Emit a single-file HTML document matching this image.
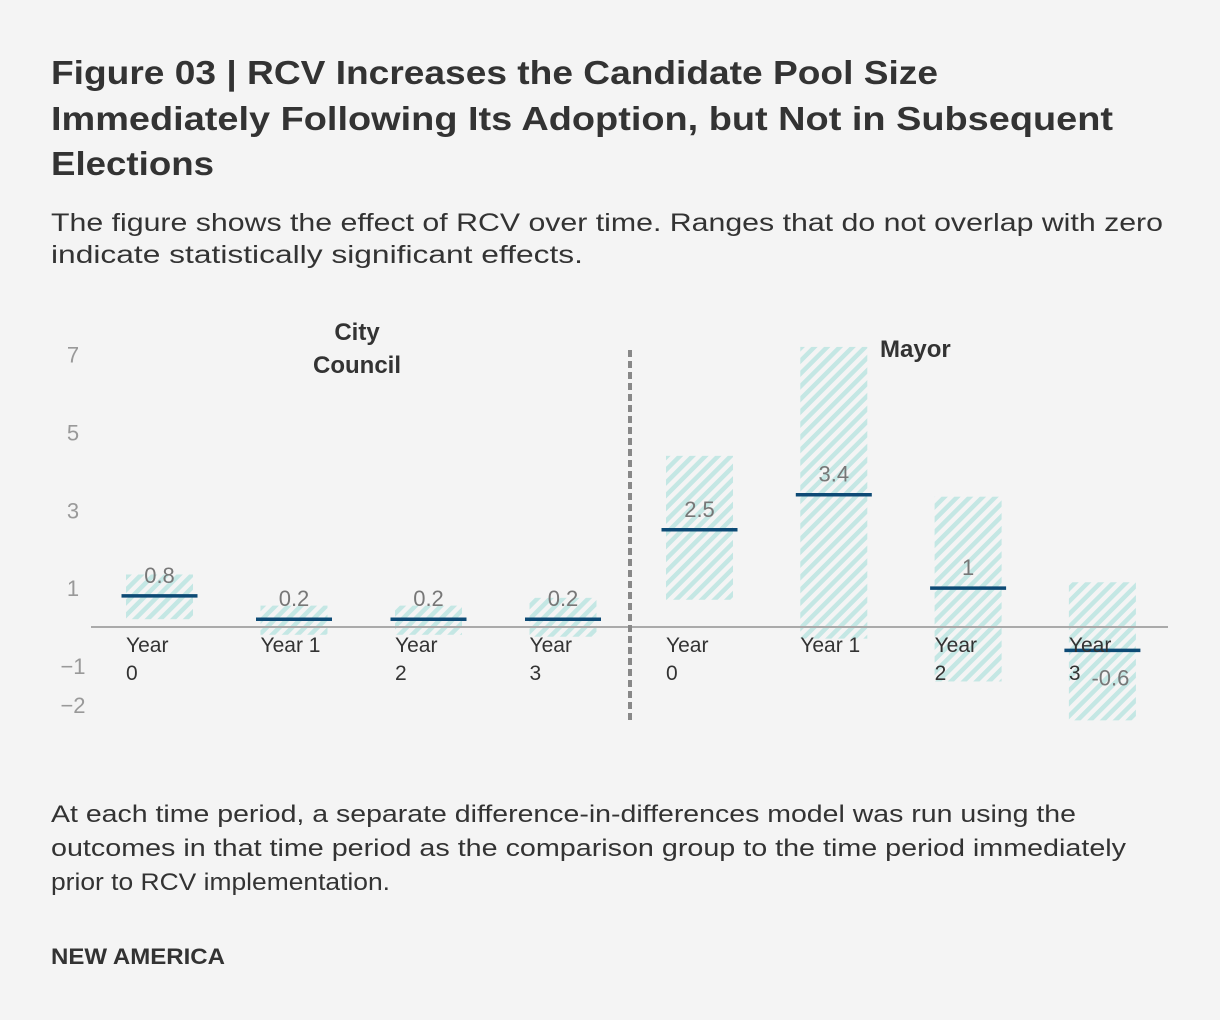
<!DOCTYPE html>
<html><head><meta charset="utf-8"><style>
html,body{margin:0;padding:0;background:#f4f4f4;}
svg{display:block;font-family:"Liberation Sans",sans-serif;}
</style></head><body>
<svg id="c" width="1220" height="1020" viewBox="0 0 1220 1020">
<defs>
<pattern id="hatch" patternUnits="userSpaceOnUse" width="9" height="9" patternTransform="rotate(45)">
<rect width="9" height="9" fill="#f4f4f4"/>
<rect width="4.5" height="9" fill="#c4e7e4"/>
</pattern>
</defs>
<g fill="#333" font-weight="bold" font-size="33">
<text x="51" y="84" textLength="887" lengthAdjust="spacingAndGlyphs">Figure 03 | RCV Increases the Candidate Pool Size</text>
<text x="51" y="130" textLength="1062" lengthAdjust="spacingAndGlyphs">Immediately Following Its Adoption, but Not in Subsequent</text>
<text x="51" y="175" textLength="163" lengthAdjust="spacingAndGlyphs">Elections</text>
</g>
<g fill="#333" font-size="25">
<text x="51" y="231" textLength="1112" lengthAdjust="spacingAndGlyphs">The figure shows the effect of RCV over time. Ranges that do not overlap with zero</text>
<text x="51" y="263" textLength="532" lengthAdjust="spacingAndGlyphs">indicate statistically significant effects.</text>
</g>
<g id="plot"></g>
<g fill="#333" font-size="24">
<text x="51" y="822" textLength="1025" lengthAdjust="spacingAndGlyphs">At each time period, a separate difference-in-differences model was run using the</text>
<text x="51" y="856" textLength="1075" lengthAdjust="spacingAndGlyphs">outcomes in that time period as the comparison group to the time period immediately</text>
<text x="51" y="890" textLength="339" lengthAdjust="spacingAndGlyphs">prior to RCV implementation.</text>
</g>
<text x="51" y="964" fill="#333" font-size="22" font-weight="bold" textLength="174" lengthAdjust="spacingAndGlyphs">NEW AMERICA</text>
</svg>
<script>
const categories=["Year 0","Year 1","Year 2","Year 3","Year 0","Year 1","Year 2","Year 3"];
const groups=["City Council","City Council","City Council","City Council","Mayor","Mayor","Mayor","Mayor"];
const estimates=[0.8,0.2,0.2,0.2,2.5,3.4,1,-0.6];
const lower=[0.2,-0.2,-0.2,-0.25,0.7,-0.3,-1.4,-2.4];
const upper=[1.35,0.55,0.55,0.75,4.4,7.2,3.35,1.15];
const labels=["0.8","0.2","0.2","0.2","2.5","3.4","1","-0.6"];
const yTicks=[7,5,3,1,-1,-2];
const yTickLabels=["7","5","3","1","\u22121","\u22122"];

const NS="http://www.w3.org/2000/svg";
const plot=document.getElementById('plot');
function y(v){return 627-38.9*v;}
function x(i){return i<4?159.5+134.5*i:699.5+134.3*(i-4);}
function mk(tag,attrs,parent){const e=document.createElementNS(NS,tag);for(const k in attrs)e.setAttribute(k,attrs[k]);(parent||plot).appendChild(e);return e;}

yTicks.forEach((t,i)=>{
  const e=mk('text',{x:73,y:y(t)+8,'text-anchor':'middle','font-size':22,fill:'#999'});
  e.textContent=yTickLabels[i];
  
  
});
categories.forEach((c,i)=>{
  const r=mk('rect',{x:x(i)-33.5,y:y(upper[i]),width:67,height:y(lower[i])-y(upper[i]),fill:'url(#hatch)'});
  
  
});
const base=mk('line',{x1:91,x2:1168,y1:y(0),y2:y(0),stroke:'#aaa','stroke-width':2});


const div=mk('line',{x1:630,x2:630,y1:350,y2:720,stroke:'#888','stroke-width':4,'stroke-dasharray':'7 4'});


categories.forEach((c,i)=>{
  const l=mk('line',{x1:x(i)-38,x2:x(i)+38,y1:y(estimates[i]),y2:y(estimates[i]),stroke:'#0d4a75','stroke-width':3.5});
  
  
  const ty=estimates[i]>=0?y(estimates[i])-13:y(estimates[i])+35;
  const t=mk('text',{x:x(i)+(estimates[i]>=0?0:8),y:ty,'text-anchor':'middle','font-size':22,fill:'#777'});
  t.textContent=labels[i];
  
  
  const lx=x(i)-33.5;
  const parts=c.split(' ');
  const one=(i===1||i===5);
  const a=mk('text',{x:lx,y:652,'font-size':21,fill:'#333'});
  a.textContent=one?c:parts[0];
  
  
  if(!one){const b=mk('text',{x:lx,y:680,'font-size':21,fill:'#333'});b.textContent=parts[1];
    
    }
});
const g1=mk('text',{x:357,y:340,'text-anchor':'middle','font-size':24,'font-weight':'bold',fill:'#333'});g1.textContent='City';


const g2=mk('text',{x:357,y:373,'text-anchor':'middle','font-size':24,'font-weight':'bold',fill:'#333'});g2.textContent='Council';


const g3=mk('text',{x:880,y:357,'font-size':24,'font-weight':'bold',fill:'#333'});g3.textContent='Mayor';


</script>
</body></html>
